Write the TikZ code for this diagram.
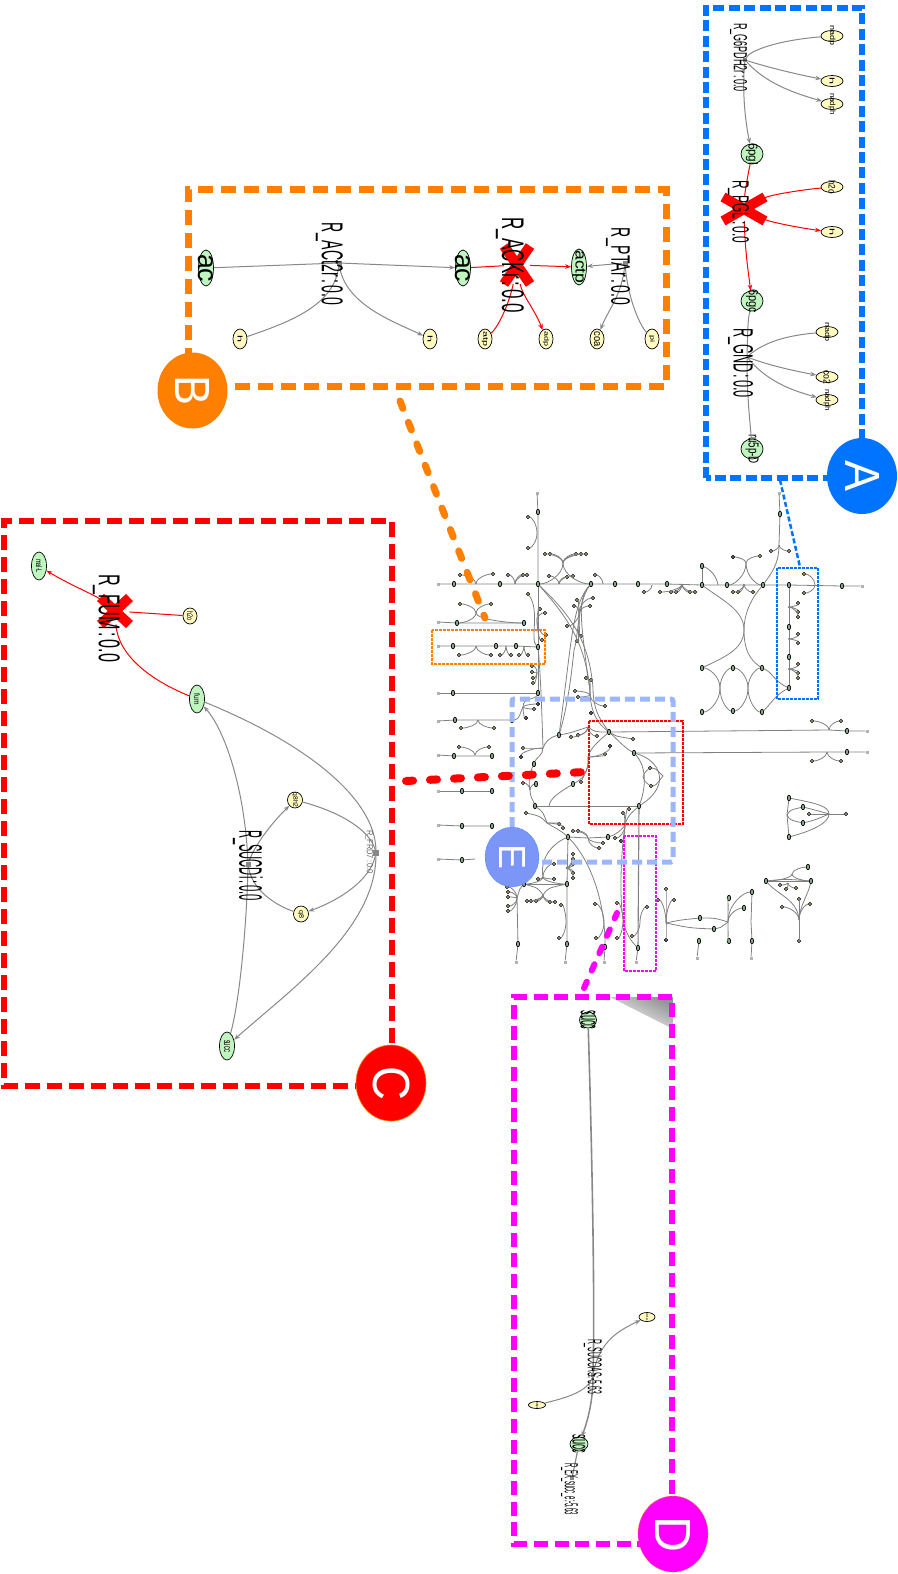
\documentclass[tikz,border=0pt]{standalone}
\usepackage{fontspec}
\setmainfont{Liberation Sans}
\usetikzlibrary{shapes.geometric,shapes.misc,arrows.meta,calc}
\definecolor{cA}{HTML}{0073FF}
\definecolor{cB}{HTML}{FF7F00}
\definecolor{cC}{HTML}{FF0000}
\definecolor{cD}{HTML}{FF00FF}
\definecolor{cE}{HTML}{7B96F7}
\definecolor{cEb}{HTML}{9DB5FB}
\definecolor{mgreen}{HTML}{BFF5BF}
\definecolor{myellow}{HTML}{FFFBC0}
\definecolor{edgegray}{HTML}{888888}
\newcommand\tx[3]{\resizebox*{#1pt}{#2pt}{#3}}
% style, name, x, y, width, height, text length, text thickness, text
\newcommand\met[9]{\node[#1,rotate=-90,minimum width=#6pt,minimum height=#5pt] (#2) at (#3,#4) {\smash{\makebox[0pt]{\raisebox{\dimexpr(\depth-\height)/2\relax}{\tx{#7}{#8}{#9}}}}};}
% name, x, y, length, thickness, text
\newcommand\rlab[6]{\node[rlabel] (#1) at (#2,#3) {\tx{#4}{#5}{#6}};}
\newcommand\fv[2]{\foreach \l in {#2} \draw[ov] (#1) .. controls ($(#1)!.6!(#1 |- \l)$) and ($(\l)!.35!(#1 |- \l)$) .. (\l);}
\newcommand\fh[2]{\foreach \l in {#2} \draw[ov] (#1) .. controls ($(#1)!.6!(\l |- #1)$) and ($(\l)!.35!(\l |- #1)$) .. (\l);}
\newcommand\cln{\,:\,}
\tikzset{
 rlabel/.style={rotate=-90,inner sep=0pt,text=black},
 gmet/.style={ellipse,draw=black,line width=.7pt,fill=mgreen,inner sep=0pt,text=black},
 ymet/.style={ellipse,draw=black,line width=.7pt,fill=myellow,inner sep=0pt,text=black},
 ge/.style={draw=edgegray,line width=1pt},
 ga/.style={ge,-{Stealth[length=6pt,width=4.5pt]}},
 re/.style={draw=red,line width=1pt},
 ra/.style={re,-{Stealth[length=6pt,width=4.5pt]}},
 hubsq/.style={rectangle,fill=edgegray,inner sep=0pt,minimum size=5pt},
 xmark/.style={cross out,draw=red,line width=10pt,inner sep=0pt},
 ov/.style={draw=black!50,line width=.8pt},
 od/.style={circle,draw=black,line width=.7pt,fill=myellow,inner sep=0pt,minimum size=3.2pt},
 ok/.style={circle,draw=black,line width=.5pt,fill=black!60,inner sep=0pt,minimum size=3.6pt},
 og/.style={ellipse,draw=black,line width=.7pt,fill=mgreen!70!black,inner sep=0pt,minimum width=3.4pt,minimum height=5.4pt},
 oe/.style={rectangle,fill=black!30,inner sep=0pt,minimum size=3pt},
 bigcirc/.style={ellipse,inner sep=0pt,minimum width=70pt,minimum height=76pt,text=white},
 thinbox/.style={line width=1.4pt,dash pattern=on 2.6pt off 1.4pt},
}
\begin{document}
\begin{tikzpicture}[x=1pt,y=-1pt]
\useasboundingbox (0,0) rectangle (897,1574);
% ---------- overview network ----------
\foreach \n/\x/\y in {m1/454/584,m2/500/584,m3/538/584,m4/591/584,m5/615/584,m6/638/584,m7/667/584,m8/702/585,m9/727/585,m10/763/585,m11/789/585,m12/842/586,
 t1/538/512,t2/702/566,u1/780/514,r2a/457/623,r2b/524/623,r3a/453/646,r3b/496/646,r3c/516/646,r3d/538/647,r4a/453/693,r4b/538/693,r5a/455/720,r5b/512/720,r6a/454/756,r6b/492/756,r7a/462/791,r7b/492/791,r8a/462/826,r8b/492/826,r9a/462/860,
 A1/559/735,v1/534/764,v2/536/784,v3/535/806,c1/609/732,c2/634/753,c3/639/806,c4/573/784,c5/568/837,c6/608/837,c7/567/884,c8/524/884,c9/518/944,c10/567/944,c11/605/947,c12/638/948,
 x1/702/668,x2/733/668,x3/762/668,x4/702/712,x5/733/711,x6/762/712,w1/789/627,w2/789/657,w3/789/688,r1/847/731,r2/847/752,
 s1/789/798,s2/803/807,s3/803/823,s4/789/837,g1/808/867,g2/766/881,g3/811/881,j1/700/918,j2/714/929,j3/752/892,j4/744/908,j5/729/941,j6/729/898,j8/752/941,j9/699/941}
 \node[og] (\n) at (\x,\y) {};
\foreach \n/\x/\y in {a1/460/575,a2/493/574,a3/508/575,a4/523/575,a5/527/575,a6/549/576,a7/567/577,a8/573/576,a9/595/575,a10/644/592,a11/660/592,a12/671/592,a13/676/592,a14/690/592,a15/695/592,a16/733/592,a17/738/592,a18/753/592,
 b1/528/517,b2/528/548,b3/545/554,b4/550/554,b5/576/554,b6/581/554,b7/586/554,
 d1/460/604,d2/491/604,d3/459/655,d4/491/655,d5/500/655,d6/511/655,d7/519/655,d8/528/655,d9/528/594,d10/540/609,d11/545/613,d12/546/635,d13/542/640,d14/532/666,d15/532/672,d16/533/678,d17/533/683,
 e1/577/600,e2/574/606,e3/593/598,e4/590/606,e5/567/626,e6/581/636,e7/577/641,e8/586/678,e9/591/680,e10/575/691,e11/578/697,e12/605/706,
 f1/534/709,f4/461/728,f5/494/728,f6/523/748,f8/571/737,f9/578/735,f10/597/736,f11/523/783,f14/605/754,f15/581/782,f16/633/739,f17/650/768,f18/651/786,
 k1/459/747,k2/489/747,k3/526/813,k4/559/824,k5/563/828,k6/573/831,k7/578/831,k8/603/843,k9/599/848,k10/615/838,k12/623/813,k13/629/809,k14/647/907,k15/632/936,k16/617/903,k17/617/938,k18/595/904,k19/596/938,k20/554/864,k21/538/879,k22/554/879,k23/527/901,k24/531/901,k25/536/901,k26/550/902,k27/555/902,k28/507/887,k29/508/892,k30/508/897,k31/508/906,k32/508/911,k33/561/905,k34/559/938,k35/573/854,k36/573/859,k37/573/864,k38/573/873,k39/573/878,
 n1/771/551,n2/789/551,n4/760/556,n5/804/574,n6/804/593,n7/798/603,n8/798/612,n9/798/617,n10/798/634,n11/798/643,n12/798/664,n13/798/673,n14/798/678,n15/812/721,n16/841/721,n17/812/761,n18/841/761,
 n19/809/814,n20/846/814,n21/780/885,n22/786/889,n23/796/888,n24/782/907,n25/799/899,n26/810/904,n27/799/941,n28/666/889,n29/658/900,n30/674/900}
 \node[od] (\n) at (\x,\y) {};
\foreach \n/\x/\y in {f2/526/718,f3/538/704,f7/521/757,f12/591/713,f13/610/746,k11/621/841,n3/733/557,n31/666/940}
 \node[ok] (\n) at (\x,\y) {};
\foreach \n/\x/\y in {z1/438/584,z2/862/586,z3/537/493,z4/438/622,z5/438/646,z6/438/693,z7/438/721,z8/438/755,z9/438/791,z10/438/825,z11/438/859,z12/779/493,z13/867/731,z14/867/752,z15/516/962,z16/565/962,z17/604/962,z18/636/962,z19/697/958,z20/751/958}
 \node[oe] (\n) at (\x,\y) {};
\foreach \n/\x/\y in {ha1/476/584,ha2/515/584,ha3/559/584,ha4/603/584,ha5/652/585,ha6/682/584,ha7/744/584,hb1/537/533,hb2/563/563,hd1/476/613,hd2/476/646,hd3/506/646,hd4/524/646,hd5/537/620,hd6/537/672,he1/579/613,he2/590/695,hf1/523/707,hf2/478/720,hf3/543/748,hf4/530/790,hf5/588/727,hf6/588/757,hf7/549/806,hk1/475/755,hk2/547/823,hk3/588/838,hk4/625/825,hk5/640/922,hk6/623/920,hk7/604/922,hk8/543/877,hk9/543/895,hk10/517/898,hk11/566/922,hk12/566/868,hn1/779/545,hn2/718/585,hn3/746/563,hn4/744/630,hn5/720/688,hn6/748/688,hn7/815/585,hn8/788/607,hn9/788/639,hn10/788/669,hn11/829/730,hn12/827/752,hn13/829/814,hn14/787/815,hn15/792/874,hn16/788/883,hn17/799/920,hn18/666/923,hn19/728/922,hn20/751/922,hl1/663/776,hl2/643/777,hz5/475/859}
 \coordinate (\n) at (\x,\y);
% straight spines
\draw[ov] (z1)--(m1)--(m2)--(m3)--(m4)--(m5)--(m6)--(m7)--(m8)--(m9)--(m10)--(m11)--(m12)--(z2);
\draw[ov] (z3)--(t1)--(m3);
\draw[ov] (z4)--(r2a)--(r2b);
\draw[ov] (z5)--(r3a)--(r3b)--(r3c)--(r3d);
\draw[ov] (z6)--(r4a)--(r4b);
\draw[ov] (z7)--(r5a)--(r5b);
\draw[ov] (z8)--(r6a)--(r6b);
\draw[ov] (z9)--(r7a)--(r7b);
\draw[ov] (z10)--(r8a)--(r8b);
\draw[ov] (z11)--(r9a)--(hz5);
\draw[ov] (m3)--(r3d)--(r4b);
\draw[ov] (z12)--(u1)--(hn1);
\draw[ov] (m11)--(w1)--(w2)--(w3);
\draw[ov] (t2)--(m8);
% fans on the axis
\fv{ha1}{a1,a2}\fv{ha2}{a3,a4,a5}\fv{ha3}{a6,a7,a8}\fv{ha4}{a9}\fv{ha5}{a10}\fv{ha6}{a11,a12,a13,a14,a15}\fv{ha7}{a16,a17,a18}
\fv{hb1}{b1,b2}\fv{hb2}{b3,b4,b5,b6,b7,m3,m4}
\fv{hd1}{d1,d2,r2a,r2b}\fv{hd2}{d3,d4}\fv{hd3}{d5,d6}\fv{hd4}{d7,d8}
\draw[ov] (d9) .. controls (540,610) and (530,640) .. (r3d);
\fv{hd5}{d10,d11,d12,d13}\fv{hd6}{d14,d15,d16,d17}
\draw[ov] (r3d) .. controls (541,680) and (542,720) .. (hf3);
\fv{he1}{e1,e2,e3,e4,e5,e6,e7}
\fv{he2}{e8,e9,e10,e11,e12}
\fv{hf2}{f4,f5}\fv{hk1}{k1,k2}
% long centre curves
\draw[ov] (m3) .. controls (565,615) and (585,640) .. (590,690) .. controls (590,715) and (600,725) .. (c1);
\draw[ov] (m3) .. controls (568,613) and (589,638) .. (593,688) .. controls (593,713) and (603,723) .. (c1);
\draw[ov] (m4) .. controls (578,600) and (578,640) .. (574,650) .. controls (570,690) and (565,715) .. (A1);
\draw[ov] (m4) .. controls (572,605) and (572,640) .. (A1);
\draw[ov] (m4) .. controls (576,600) and (582,625) .. (588,680);
\draw[ov] (r4b) .. controls (535,700) and (523,697) .. (hf1);
\draw[ov] (r5b) .. controls (520,720) and (520,712) .. (hf1);
\fv{hf1}{f1,f2,f3}
\fh{hf3}{f6,f7}
\draw[ov] (hf3) .. controls (545,742) and (550,737) .. (A1);
\draw[ov] (hf3) .. controls (543,755) and (536,758) .. (v1);
\draw[ov] (v1) .. controls (530,772) and (528,782) .. (hf4);
\draw[ov] (hf4) .. controls (530,797) and (533,800) .. (v3);
\fv{hf4}{v2,f11}
\draw[ov] (A1) .. controls (570,733) .. (hf5);
\fv{hf5}{f8,f9,f10}
\draw[ov] (hf5) .. controls (595,732) .. (c1);
\draw[ov] (c1)--(hn11)--(r1)--(z13);\fv{hn11}{n15,n16}
\draw[ov] (c2)--(hn12)--(r2)--(z14);\fv{hn12}{n17,n18}
\draw[ov] (c1) .. controls (620,742) and (625,748) .. (c2);
\draw[ov] (c1) .. controls (615,736) .. (f16);
\draw[ov] (c1) .. controls (600,740) and (590,748) .. (hf6);
\fh{hf6}{f13,f14}
\draw[ov] (hf6) .. controls (589,775) and (580,780) .. (c4);
\draw[ov] (hf6) .. controls (589,765) .. (f15);
\draw[ov] (c4) .. controls (560,792) and (550,798) .. (hf7);
\draw[ov] (v3)--(c3);
\draw[ov] (c2) .. controls (648,768) and (645,790) .. (c3);
\draw[ov] (c2) .. controls (660,760) and (672,785) .. (c3);
\draw[ov] (f17) .. controls (655,768) .. (hl1);
\draw[ov] (f18) .. controls (655,786) .. (hl1);
\draw[ov] (f17) .. controls (645,772) .. (hl2);
\draw[ov] (f18) .. controls (645,782) .. (hl2);
% lower centre
\draw[ov] (k3) .. controls (540,816) .. (hk2);
\draw[ov] (v3) .. controls (543,812) .. (hk2);
\draw[ov] (hk2) .. controls (555,828) and (560,830) .. (c5);
\fh{hk2}{k4,k5}
\draw[ov] (c5)--(hk3)--(c6);
\fv{hk3}{k6,k7,k8,k9}
\draw[ov] (c6) .. controls (615,835) and (622,830) .. (hk4);
\fv{hk4}{k10,k11,k12,k13}
\draw[ov] (hk4) .. controls (627,815) and (635,810) .. (c3);
\draw[ov] (hk4) .. controls (620,860) and (620,900) .. (hk6) .. controls (626,935) and (632,942) .. (c12);
\draw[ov,line width=1.1pt] (c3)--(c12);
\draw[ov] (c12)--(z18);
\fv{hk5}{k14,k15}\fv{hk6}{k16,k17}
\draw[ov] (c5)--(c7)--(c10)--(z16);
\draw[ov] (c5) .. controls (590,860) and (605,900) .. (c11);
\draw[ov] (c11)--(z17);
\fv{hk7}{k18,k19}
\fv{hk11}{k33,k34}
\fh{hk12}{k35,k36,k37,k38,k39}
\draw[ov] (c5) .. controls (550,845) and (540,860) .. (hk8);
\fv{hk8}{k20,k21,k22,c8,c7}
\draw[ov] (c8)--(c7);
\draw[ov] (c8) .. controls (538,888) .. (hk9);
\draw[ov] (c7) .. controls (548,888) .. (hk9);
\fv{hk9}{k23,k24,k25,k26,k27}
\draw[ov] (c8) .. controls (520,888) .. (hk10);
\draw[ov] (hk10)--(c9)--(z15);
\fv{hk10}{k28,k29,k30,k31,k32}
% right part
\fv{hn1}{n1,n2}
\draw[ov] (hn1) .. controls (779,565) and (770,575) .. (m10);
\draw[ov] (t2) .. controls (712,570) and (717,578) .. (hn2);
\fv{hn3}{n3,n4,m9,m10}
\draw[ov] (m8) .. controls (722,600) and (744,610) .. (hn4);
\draw[ov] (m10) .. controls (750,600) and (744,615) .. (hn4);
\draw[ov] (hn4) .. controls (744,650) and (722,658) .. (x1);
\draw[ov] (hn4) .. controls (744,650) and (750,660) .. (x3);
\fv{hn5}{x1,x2,x4,x5}\fv{hn6}{x2,x3,x5,x6}
\draw[ov] (x3) .. controls (772,672) and (775,682) .. (w3);
\draw[ov] (x6) .. controls (770,705) and (775,695) .. (w3);
\fv{hn7}{n5,n6}
\fh{hn8}{n7,n8,n9}\fh{hn9}{n10,n11}\fh{hn10}{n12,n13,n14}
% small shapes on the right
\draw[ov] (s1)--(hn14)--(s4);
\draw[ov] (s1) .. controls (815,803) and (829,806) .. (hn13);
\draw[ov] (s4) .. controls (815,830) and (829,822) .. (hn13);
\draw[ov] (hn14) .. controls (790,810) .. (s2);
\draw[ov] (hn14) .. controls (790,820) .. (s3);
\draw[ov] (s2) .. controls (815,810) .. (hn13);
\draw[ov] (s3) .. controls (815,820) .. (hn13);
\draw[ov] (n19)--(n20);
\draw[ov] (g2)--(g3);
\draw[ov] (g2) .. controls (785,879) .. (g3);
\fv{hn15}{g1,g2,g3}
\fv{hn16}{n21,n22,n23}
\draw[ov] (g2) .. controls (778,895) and (798,900) .. (hn17);
\draw[ov] (g3) .. controls (808,895) and (800,905) .. (hn17);
\fv{hn17}{n24,n25,n26,n27}
\fv{hn18}{n28,n29,n30,n31}
\draw[ov] (hn18) .. controls (680,920) .. (j1);
\draw[ov] (j1) .. controls (715,918) .. (hn19);
\draw[ov] (hn18) .. controls (690,928) .. (j2);
\draw[ov] (j2) .. controls (720,928) .. (hn19);
\fv{hn19}{j3,j4,j5,j6}
\draw[ov] (j3)--(hn20)--(j8)--(z20);
\draw[ov] (j9)--(z19);
% ---------- overview frames ----------
\draw[cB,thinbox] (432,630) rectangle (545,664);
\draw[cA,thinbox] (777,568) rectangle (818,699);
\draw[cC,thinbox] (589,721) rectangle (683,824);
\draw[cD,thinbox] (624,836) rectangle (656,971);
\draw[cEb,line width=5pt,dash pattern=on 10pt off 5pt,rounded corners=2pt] (512,857) -- (512,699) -- (673,699) -- (673,862) -- (512,862);
% ---------- box A ----------
\draw[cA,line width=5.5pt,dash pattern=on 11pt off 4.4pt] (706,478) -- (706,8) -- (862,8) -- (862,478) -- cycle;
\met{ymet}{nadpA}{832}{36}{22}{11}{20}{7}{nadp}
\met{ymet}{hA}{832}{81}{22}{11}{7}{5}{h}
\met{ymet}{nadphA}{832}{104}{22}{11}{22}{7}{nadph}
\met{gmet}{pgl}{752}{154}{22}{20}{22}{12}{6pgl}
\met{ymet}{hooA}{832}{187}{22}{11}{14}{7}{h2o}
\met{ymet}{hB}{832}{232}{22}{11}{7}{5}{h}
\met{gmet}{pgc}{752}{301}{22}{20}{24}{12}{6pgc}
\met{ymet}{nadpB}{827}{332}{22}{11}{20}{7}{nadp}
\met{ymet}{cotwo}{827}{377}{22}{11}{14}{7}{co2}
\met{ymet}{nadphB}{827}{400}{22}{11}{22}{7}{nadph}
\met{gmet}{ruvp}{752}{449}{22}{20}{30}{13}{ru5p-D}
\node[hubsq,minimum size=4pt] (hG) at (745,60) {};
\coordinate (hGND) at (747,357);
\node[xmark,minimum width=32pt,minimum height=14pt] (xPGL) at (744,209) {};
\draw[ge] (nadpA) .. controls (780,40) and (750,50) .. (hG);
\draw[ga] (hG) .. controls (770,68) and (800,75) .. (hA);
\draw[ga] (hG) .. controls (765,82) and (790,92) .. (nadphA);
\draw[ga] (hG) .. controls (742,90) and (745,120) .. (pgl);
\draw[re] (pgl) .. controls (748,175) and (745,190) .. (xPGL);
\draw[ra] (xPGL) .. controls (745,250) and (748,270) .. (pgc);
\draw[re] (hooA) .. controls (800,190) and (770,195) .. (xPGL);
\draw[ra] (xPGL) .. controls (770,222) and (800,228) .. (hB);
\draw[ge] (pgc) .. controls (748,320) .. (hGND);
\draw[ge] (nadpB) .. controls (780,336) and (760,345) .. (hGND);
\draw[ga] (hGND) .. controls (770,366) and (800,372) .. (cotwo);
\draw[ga] (hGND) .. controls (765,380) and (790,390) .. (nadphB);
\draw[ge] (hGND) .. controls (747,400) and (750,420) .. (ruvp);
\rlab{lG}{738.5}{57.5}{69}{17}{R\_G6PDH2r\cln0.0}
\rlab{lP}{738.5}{211.5}{63}{21}{R\_PGL\cln0.0}
\rlab{lN}{740.5}{363}{70}{25}{R\_GND\cln0.0}
% ---------- box B ----------
\draw[cB,line width=7pt,dash pattern=on 15pt off 8pt] (188,386) -- (188,189) -- (666,189) -- (666,386) -- cycle;
\met{gmet}{acL}{206}{268}{15}{36}{28}{15}{ac}
\met{gmet}{acR}{463}{268}{15}{36}{28}{15}{ac}
\met{gmet}{actp}{579}{267}{15}{36}{33}{13}{actp}
\met{ymet}{hC}{240}{339}{14}{20}{7}{5}{h}
\met{ymet}{hD}{430}{339}{14}{20}{7}{5}{h}
\met{ymet}{atp}{485}{339}{14}{20}{15}{6}{atp}
\met{ymet}{adp}{546}{339}{14}{20}{15}{6}{adp}
\met{ymet}{coa}{597}{339}{14}{20}{15}{6}{coa}
\met{ymet}{pi}{652}{339}{14}{20}{7}{6}{pi}
\node[hubsq] (hAC) at (339,263) {};
\node[hubsq] (hPT) at (625,263) {};
\node[xmark,minimum width=16pt,minimum height=28pt] (xACK) at (517,265) {};
\draw[ge] (acL) -- (hAC);
\draw[ga] (hAC) -- (acR);
\draw[ge] (hC) .. controls (290,322) and (335,305) .. (hAC);
\draw[ga] (hAC) .. controls (345,305) and (395,322) .. (hD);
\draw[re] (acR) -- (xACK);
\draw[ra] (xACK) -- (actp);
\draw[re] (atp) .. controls (500,325) and (510,300) .. (xACK);
\draw[ra] (xACK) .. controls (522,295) and (535,310) .. (adp);
\draw[ga] (hPT) -- (actp);
\draw[ge] (pi) .. controls (640,325) and (628,300) .. (hPT);
\draw[ga] (hPT) .. controls (622,295) and (608,310) .. (coa);
\rlab{lAC}{329.5}{264}{82}{27}{R\_ACt2r\cln0.0}
\rlab{lAK}{510}{265}{96}{28}{R\_ACKr\cln0.0}
\rlab{lPT}{618}{266.5}{77}{24}{R\_PTAr\cln0.0}
% ---------- box C ----------
\draw[cC,line width=6.5pt,dash pattern=on 15pt off 7pt] (392,1086) -- (4,1086) -- (4,521) -- (392,521) -- cycle;
\met{gmet}{malL}{39}{566}{15}{28}{14}{6}{mal-L}
\met{ymet}{hoC}{190}{616}{14}{16}{9}{6}{h2o}
\met{gmet}{fum}{197}{699}{15}{28}{11}{6}{fum}
\met{ymet}{qh}{295}{800}{15}{16}{15}{6}{q8h2}
\met{ymet}{qe}{301}{914}{15}{16}{8}{6}{q8}
\met{gmet}{succC}{227}{1046}{15}{28}{12}{6}{succ}
\node[hubsq] (hS) at (248,864) {};
\node[hubsq,minimum size=6pt] (hF) at (376,853) {};
\node[xmark,minimum width=19pt,minimum height=17pt] (xFUM) at (115,611) {};
\draw[re] (fum) .. controls (150,680) and (118,655) .. (xFUM);
\draw[ra] (xFUM) .. controls (95,595) and (70,585) .. (malL);
\draw[re] (hoC) -- (xFUM);
\draw[ge] (succC) .. controls (240,1000) and (247,920) .. (hS);
\draw[ga] (hS) .. controls (245,790) and (225,730) .. (fum);
\draw[ga] (hS) .. controls (255,845) and (270,825) .. (qh);
\draw[ge] (qe) .. controls (275,905) and (252,890) .. (hS);
\draw[ge] (fum) .. controls (310,745) and (375,800) .. (hF);
\draw[ga] (hF) .. controls (375,930) and (290,990) .. (succC);
\draw[ge] (qh) .. controls (340,812) and (370,830) .. (hF);
\draw[ga] (hF) .. controls (370,880) and (340,900) .. (qe);
\rlab{lF}{106.5}{618}{88}{27}{R\_FUM\cln0.0}
\rlab{lS}{248}{865.5}{71}{30}{R\_SUCDi\cln0.0}
\node[rlabel,text=black!60] (lR) at (369,852) {\tx{44}{8}{R\_FRD7\cln0.0}};
% ---------- box D ----------
\shade[left color=gray!85,right color=white,shading angle=-27] (610,997) -- (673,997) -- (673,1029) -- cycle;
\draw[cD,line width=6.5pt,dash pattern=on 14pt off 6.7pt] (672,1544) -- (514,1544) -- (514,997) -- (672,997) -- cycle;
\met{gmet}{succD}{588}{1020}{17}{16}{19}{15}{succ}
\met{gmet}{succE}{579}{1444}{18}{14}{19}{13}{succ}
\met{ymet}{aD}{647}{1317}{16}{9}{7}{2.5}{adp}
\met{ymet}{bD}{537}{1405}{17}{7}{7}{2.5}{atp}
\node[hubsq,minimum size=4pt] (hSU) at (593,1375) {};
\node[hubsq,minimum size=4pt] (hEX) at (572,1478) {};
\draw[ge,line width=1.6pt] (succD) .. controls (592,1150) and (595,1300) .. (hSU);
\draw[ga,line width=1.5pt] (hSU) .. controls (593,1400) and (588,1420) .. (succE);
\draw[ge,line width=1.2pt] (succE) -- (hEX);
\draw[ge] (bD) .. controls (565,1398) and (588,1392) .. (hSU);
\draw[ga] (hSU) .. controls (600,1340) and (620,1330) .. (aD);
\rlab{lSU}{593}{1366.5}{55}{18}{R\_SUCOAS:-5.63}
\rlab{lEX}{569.5}{1489}{52}{17}{R\_EX\_succ\_e:-5.63}
% ---------- connectors ----------
\coordinate (fB1) at (400,401);\coordinate (fB2) at (485,618);
\draw[cB,line width=7pt,line cap=round,dash pattern=on 8pt off 15pt] (fB1) -- (fB2);
\coordinate (fC1) at (406,781);\coordinate (fC2) at (585,772);
\draw[cC,line width=8pt,line cap=round,dash pattern=on 7pt off 17pt] (fC1) -- (fC2);
\coordinate (fD1) at (584,988);\coordinate (fD2) at (617,913);
\draw[cD,line width=6pt,line cap=round,dash pattern=on 7pt off 12pt] (fD1) -- (fD2);
\coordinate (fA1) at (780,480);\coordinate (fA2) at (800,567);
\draw[cA,line width=2.5pt,dash pattern=on 5pt off 2.5pt] (fA1) -- (fA2);
% ---------- letter discs ----------
\node[bigcirc,fill=cA] (dA) at (862,476) {\rotatebox{-90}{\tx{31}{34}{A}}};
\node[bigcirc,fill=cB] (dB) at (192.5,390.5) {\rotatebox{-90}{\tx{30}{34}{B}}};
\node[bigcirc,fill=cC,draw=orange,line width=.6pt] (dC) at (391,1083) {\rotatebox{-90}{\tx{34}{37}{C}}};
\node[bigcirc,fill=cD,draw=orange,densely dotted,line width=.6pt] (dD) at (673,1534) {\rotatebox{-90}{\tx{36}{35}{D}}};
\node[bigcirc,fill=cE,minimum width=54pt,minimum height=60pt,draw=cA,densely dotted,line width=.4pt] (dE) at (512,857) {\rotatebox{-90}{\tx{25}{26}{E}}};
\end{tikzpicture}
\end{document}
